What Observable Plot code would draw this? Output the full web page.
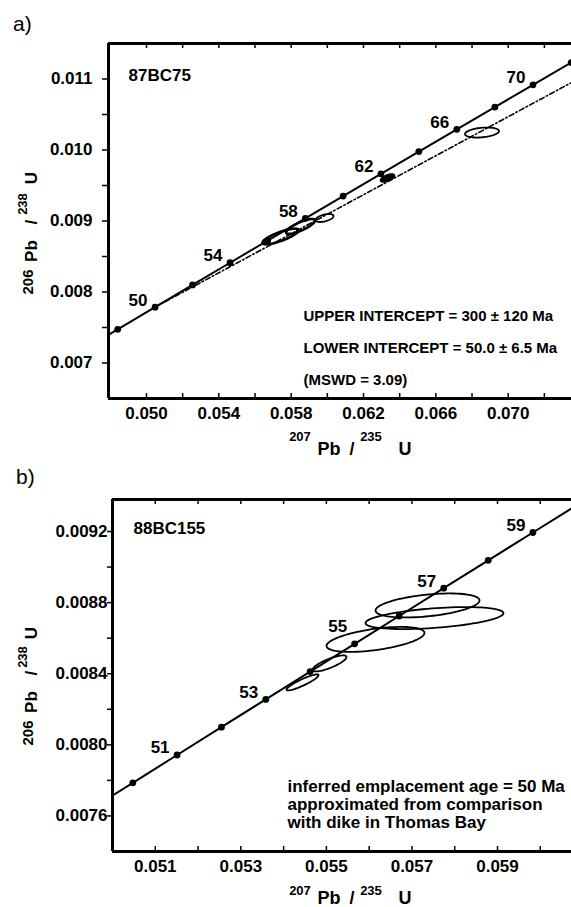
<!DOCTYPE html>
<html><head><meta charset="utf-8">
<script src="https://cdn.jsdelivr.net/npm/d3@7"></script>
<script src="https://cdn.jsdelivr.net/npm/@observablehq/plot@0.6"></script>
<style>
body{margin:0;background:#fff;}
#wrap{position:relative;width:571px;height:907px;overflow:hidden;background:#fff;font-family:"Liberation Sans",Arial,Helvetica,sans-serif;color:#000;}
#wrap svg{position:absolute;left:0;}
#wrap svg text{font-weight:bold;}
.plabel{position:absolute;font-size:21px;line-height:1;}
</style></head><body><div id="wrap"></div>
<script>
// ---------- Panel a data (87BC75) ----------
const concAgeA   = [46, 48, 50, 52, 54, 56, 58, 60, 62, 64, 66, 68, 70, 72, 74];
const conc207A   = [0.0463450, 0.0484080, 0.0504751, 0.0525462, 0.0546215, 0.0567008, 0.0587842, 0.0608718, 0.0629634, 0.0650592, 0.0671591, 0.0692632, 0.0713714, 0.0734837, 0.0756003];
const conc206A   = [0.0071613, 0.0074738, 0.0077864, 0.0080991, 0.0084119, 0.0087248, 0.0090379, 0.0093510, 0.0096642, 0.0099774, 0.0102908, 0.0106043, 0.0109179, 0.0112316, 0.0115454];
const dotAgesA   = [48, 50, 52, 54, 56, 58, 60, 62, 64, 66, 68, 70, 72];
const labelAgesA = [50, 54, 58, 62, 66, 70];
const discord207A = [0.0504751, 0.0735];
const discord206A = [0.0077864, 0.01095];
// error ellipses: centre x, centre y, half-width x, half-height y, correlation
const ellCxA  = [0.057410, 0.058516, 0.059843, 0.063326, 0.068551];
const ellCyA  = [0.008782, 0.008923, 0.009042, 0.009606, 0.010246];
const ellSxA  = [0.000995, 0.000800, 0.000498, 0.000387, 0.000940];
const ellSyA  = [0.000110, 0.000105, 0.0000563, 0.0000563, 0.0000705];
const ellRhoA = [0.8, 0.8, 0.5, 0.6, 0.3];
const xTicksA      = [0.050, 0.052, 0.054, 0.056, 0.058, 0.060, 0.062, 0.064, 0.066, 0.068, 0.070, 0.072];
const xTickLabelsA = ["0.050", "0.054", "0.058", "0.062", "0.066", "0.070"];
const yTicksA      = [0.007, 0.0075, 0.008, 0.0085, 0.009, 0.0095, 0.010, 0.0105, 0.011];
const yTickLabelsA = ["0.007", "0.008", "0.009", "0.010", "0.011"];
const xDomainA = [0.0479, 0.0735];
const yDomainA = [0.0065, 0.0115];
const sampleA = "87BC75";
const noteA = ["UPPER INTERCEPT = 300 \u00b1 120 Ma", "LOWER INTERCEPT = 50.0 \u00b1 6.5 Ma", "(MSWD = 3.09)"];

// ---------- Panel b data (88BC155) ----------
const concAgeB   = [49, 50, 51, 52, 53, 54, 55, 56, 57, 58, 59, 60, 61];
const conc207B   = [0.0494410, 0.0504751, 0.0515101, 0.0525462, 0.0535833, 0.0546215, 0.0556606, 0.0567008, 0.0577420, 0.0587842, 0.0598275, 0.0608718, 0.0619171];
const conc206B   = [0.0076301, 0.0077864, 0.0079428, 0.0080991, 0.0082555, 0.0084119, 0.0085684, 0.0087248, 0.0088813, 0.0090379, 0.0091944, 0.0093510, 0.0095075];
const dotAgesB   = [50, 51, 52, 53, 54, 55, 56, 57, 58, 59];
const labelAgesB = [51, 53, 55, 57, 59];
const ellCxB  = [0.056148, 0.057527, 0.057364, 0.055073, 0.054442];
const ellCyB  = [0.008593, 0.008713, 0.008784, 0.008458, 0.008351];
const ellSxB  = [0.001145, 0.001613, 0.001216, 0.000397, 0.000374];
const ellSyB  = [0.0000703, 0.0000619, 0.0000675, 0.0000450, 0.0000450];
const ellRhoB = [0.52, 0.45, 0.42, 0.8, 0.9];
const xTicksB      = [0.051, 0.052, 0.053, 0.054, 0.055, 0.056, 0.057, 0.058, 0.059, 0.060];
const xTickLabelsB = ["0.051", "0.053", "0.055", "0.057", "0.059"];
const yTicksB      = [0.0076, 0.0078, 0.0080, 0.0082, 0.0084, 0.0086, 0.0088, 0.0090, 0.0092];
const yTickLabelsB = ["0.0076", "0.0080", "0.0084", "0.0088", "0.0092"];
const xDomainB = [0.050, 0.06073];
const yDomainB = [0.0074, 0.00938];
const sampleB = "88BC155";
const noteB = ["inferred emplacement age = 50 Ma", "approximated from comparison", "with dike in Thomas Bay"];

// ---------- helpers ----------
const FONT = '"Liberation Sans", Arial, Helvetica, sans-serif';
function concRows(ages, x, y) { return ages.map((a, i) => ({age: a, x: x[i], y: y[i]})); }
function ellipseRows(cx, cy, sx, sy, rho) {
  const out = [];
  cx.forEach((c, k) => {
    const s = Math.sqrt(1 - rho[k] * rho[k]);
    for (let i = 0; i <= 90; i++) {
      const t = (i / 90) * 2 * Math.PI;
      out.push({id: k, x: c + sx[k] * Math.cos(t), y: cy[k] + sy[k] * (rho[k] * Math.cos(t) + s * Math.sin(t))});
    }
  });
  return out;
}
function labelMap(labels) { return new Map(labels.map(s => [Number(s), s])); }
function fmt(map) { return d => { for (const [k, v] of map) if (Math.abs(k - d) < 1e-9) return v; return ""; }; }

function panel(cfg) {
  const innerH = cfg.height - cfg.mt - cfg.mb;
  const line = concRows(cfg.lineAges, cfg.c207, cfg.c206);
  const dots = line.filter(d => cfg.dotAges.includes(d.age));
  const labs = line.filter(d => cfg.labelAges.includes(d.age));
  const ells = ellipseRows(cfg.ecx, cfg.ecy, cfg.esx, cfg.esy, cfg.erho);
  const marks = [
    Plot.axisY(cfg.yTicks, {anchor: "left", tickSize: cfg.yTickSize, tickPadding: cfg.yTickPad, tickFormat: fmt(labelMap(cfg.yLabels)), fontSize: 17, strokeWidth: 1.5, label: null}),
    Plot.axisX(cfg.xLabels.map(Number), {anchor: "bottom", tickSize: 0, tickPadding: 8, tickFormat: fmt(labelMap(cfg.xLabels)), fontSize: 17, label: null}),
    Plot.ruleX(cfg.xTicks, {insetTop: innerH - 5, strokeWidth: 1.5}),
    Plot.ruleX(cfg.xTicks, {insetBottom: innerH - 5, strokeWidth: 1.5}),
    Plot.ruleY(cfg.yDomain, {strokeWidth: 3}),
    Plot.ruleX([cfg.xDomain[0]], {strokeWidth: 3}),
    Plot.line(line, {x: "x", y: "y", strokeWidth: 2, clip: true}),
  ];
  if (cfg.d207) marks.push(Plot.line(cfg.d207.map((x, i) => ({x, y: cfg.d206[i]})), {x: "x", y: "y", strokeWidth: 1.6, strokeDasharray: "5,2.5,1.5,2.5", clip: true}));
  const light = ells.filter(d => !cfg.heavy.includes(d.id) && !cfg.filled.includes(d.id));
  const heavy = ells.filter(d => cfg.heavy.includes(d.id));
  const filled = ells.filter(d => cfg.filled.includes(d.id));
  marks.push(Plot.line(light, {x: "x", y: "y", z: "id", strokeWidth: 1.8, clip: true}));
  if (heavy.length) marks.push(Plot.line(heavy, {x: "x", y: "y", z: "id", strokeWidth: 2.6, clip: true}));
  if (filled.length) marks.push(Plot.line(filled, {x: "x", y: "y", z: "id", fill: "black", stroke: "black", strokeWidth: 1.5, clip: true}));
  marks.push(
    Plot.dot(dots, {x: "x", y: "y", r: 3.4, fill: "black", stroke: null, clip: true}),
    Plot.text(labs.filter(d => d.age !== cfg.raisedAge), {x: "x", y: "y", text: d => String(d.age), dx: -17, dy: -7, fontSize: 17}),
    Plot.text([cfg.sample], {frameAnchor: "top-left", dx: cfg.sampleDx, dy: cfg.sampleDy, textAnchor: "start", lineAnchor: "middle", fontSize: 17}),
    Plot.text([cfg.note.join("\n")], {frameAnchor: "top-left", dx: cfg.noteDx, dy: cfg.noteDy, textAnchor: "start", lineAnchor: "middle", lineHeight: cfg.noteLH, fontSize: cfg.noteSize})
  );
  const raised = labs.filter(d => d.age === cfg.raisedAge);
  if (raised.length) marks.push(Plot.text(raised, {x: "x", y: "y", text: d => String(d.age), dx: -17, dy: -17, fontSize: 17}));
  return Plot.plot({
    width: 571, height: cfg.height,
    marginTop: cfg.mt, marginBottom: cfg.mb, marginLeft: cfg.ml, marginRight: 0,
    x: {domain: cfg.xDomain}, y: {domain: cfg.yDomain},
    style: {fontFamily: FONT, background: "transparent", overflow: "visible", color: "black"},
    marks
  });
}

function addRichText(svg, transform, parts) {
  const t = d3.select(svg).append("text").attr("fill", "black").style("font-family", FONT).style("font-weight", "bold");
  if (transform) t.attr("transform", transform);
  parts.forEach(p => t.append("tspan").attr("x", p.x).attr("y", p.y).attr("font-size", p.size).text(p.text));
}

const wrap = document.getElementById("wrap");

// Panel a
const svgA = panel({
  height: 460, mt: 43, mb: 62, ml: 108,
  xDomain: xDomainA, yDomain: yDomainA, xTicks: xTicksA, xLabels: xTickLabelsA, yTicks: yTicksA, yLabels: yTickLabelsA,
  yTickSize: 6, yTickPad: 10,
  lineAges: concAgeA, c207: conc207A, c206: conc206A, dotAges: dotAgesA, labelAges: labelAgesA, raisedAge: null,
  d207: discord207A, d206: discord206A,
  ecx: ellCxA, ecy: ellCyA, esx: ellSxA, esy: ellSyA, erho: ellRhoA, heavy: [0, 1], filled: [3],
  sample: sampleA, sampleDx: 20, sampleDy: 32,
  note: noteA, noteDx: 195, noteDy: 299.4, noteLH: 2.13, noteSize: 15
});
svgA.style.top = "0px";
wrap.appendChild(svgA);
addRichText(svgA, null, [
  {text: "207", x: 300, y: 440.5, size: 13},
  {text: "Pb", x: 329, y: 455, size: 18},
  {text: "/", x: 352, y: 455, size: 18},
  {text: "235", x: 371, y: 440.5, size: 13},
  {text: "U", x: 405, y: 455, size: 18}
]);
addRichText(svgA, "translate(37,282) rotate(-90)", [
  {text: "206", x: 0, y: -4, size: 15},
  {text: "Pb", x: 31, y: 0, size: 17},
  {text: "/", x: 60, y: 0, size: 17},
  {text: "238", x: 78, y: -10, size: 13},
  {text: "U", x: 104, y: 0, size: 17}
]);

// Panel b
const svgB = panel({
  height: 447, mt: 39, mb: 56, ml: 112,
  xDomain: xDomainB, yDomain: yDomainB, xTicks: xTicksB, xLabels: xTickLabelsB, yTicks: yTicksB, yLabels: yTickLabelsB,
  yTickSize: 5, yTickPad: 0,
  lineAges: concAgeB, c207: conc207B, c206: conc206B, dotAges: dotAgesB, labelAges: labelAgesB, raisedAge: 55,
  d207: null, d206: null,
  ecx: ellCxB, ecy: ellCyB, esx: ellSxB, esy: ellSyB, erho: ellRhoB, heavy: [], filled: [],
  sample: sampleB, sampleDx: 21, sampleDy: 29,
  note: noteB, noteDx: 175, noteDy: 304.5, noteLH: 1.05, noteSize: 17
});
svgB.style.top = "460px";
wrap.appendChild(svgB);
addRichText(svgB, null, [
  {text: "207", x: 300, y: 434.5, size: 13},
  {text: "Pb", x: 329, y: 444, size: 18},
  {text: "/", x: 352, y: 444, size: 18},
  {text: "235", x: 371, y: 434.5, size: 13},
  {text: "U", x: 405, y: 444, size: 18}
]);
addRichText(svgB, "translate(37,273) rotate(-90)", [
  {text: "206", x: 0, y: -4, size: 15},
  {text: "Pb", x: 31, y: 0, size: 17},
  {text: "/", x: 60, y: 0, size: 17},
  {text: "238", x: 76, y: -10, size: 13},
  {text: "U", x: 100, y: 0, size: 17}
]);

// panel letters
[["a)", 13, 13], ["b)", 16, 466]].forEach(([t, x, y]) => {
  const d = document.createElement("div");
  d.className = "plabel"; d.textContent = t;
  d.style.left = x + "px"; d.style.top = y + "px";
  wrap.appendChild(d);
});
</script>
</body></html>
